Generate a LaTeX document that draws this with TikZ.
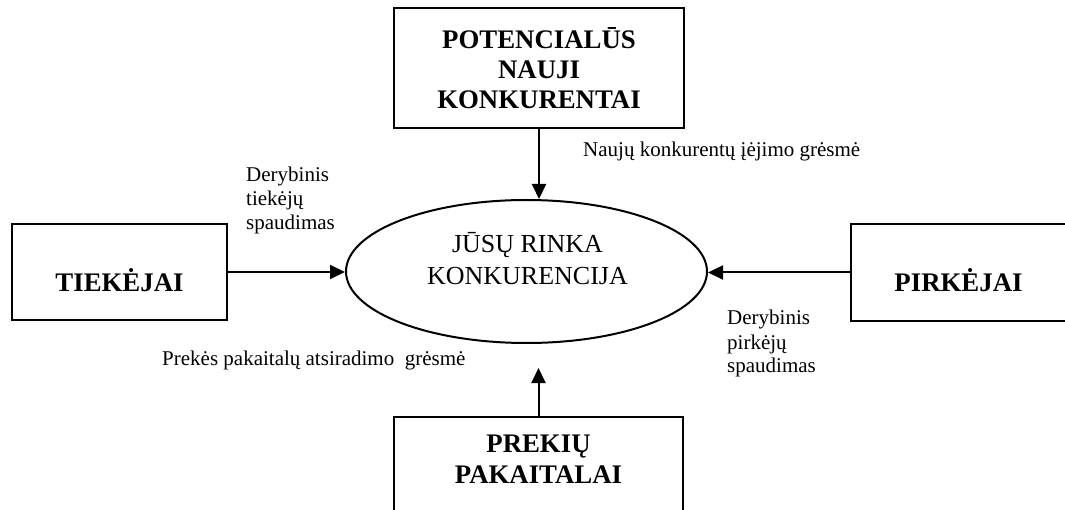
\documentclass[tikz,border=0pt]{standalone}
\usepackage{fontspec}
\setmainfont{Liberation Serif}
\usetikzlibrary{shapes.geometric,arrows.meta}
\begin{document}
\begin{tikzpicture}[x=1pt,y=-1pt,
  box/.style={draw, line width=2pt, rectangle, inner sep=0pt,
    font=\fontsize{26.8}{30}\selectfont\bfseries},
  title/.style={inner sep=0pt, font=\fontsize{26.8}{31}\selectfont\bfseries, align=center},
  flow/.style={-{Triangle[length=15pt,width=14pt]}, line width=2pt},
  note/.style={inner sep=0pt, font=\fontsize{21}{24}\selectfont, align=left},
]
\useasboundingbox (0,0) rectangle (1065,510);
\clip (0,0) rectangle (1065,510);

% central market ellipse
\node[draw, ellipse, line width=2pt, minimum width=361, minimum height=143, inner sep=0pt] (market) at (526.5,271.5) {};
\node[inner sep=0pt, font=\fontsize{26}{32}\selectfont, align=center, anchor=base] (markettext) at (527.5,285) {JŪSŲ RINKA\\KONKURENCIJA};

% the four forces
\node[box, align=center, minimum width=290, minimum height=120] (entrants) at (539,68) {POTENCIALŪS\\NAUJI\\KONKURENTAI};
\node[box, minimum width=215, minimum height=96] (suppliers) at (119.5,272) {\raisebox{-20pt}[0pt][0pt]{TIEKĖJAI}};
\node[box, minimum width=215, minimum height=97] (buyers) at (958.5,272.5) {\raisebox{-19pt}[0pt][0pt]{PIRKĖJAI}};
\node[box, minimum width=289, minimum height=130] (substitutes) at (538.5,482) {};
\node[title, anchor=base] (substtext) at (538.5,483) {PREKIŲ\\PAKAITALAI};

% connectors
\coordinate (substtip) at (538.5,368);
\draw[flow] (entrants.south) -- (entrants.south |- market.north);
\draw[flow] (suppliers.east) -- (suppliers.east -| market.west);
\draw[flow] (buyers.west) -- (buyers.west -| market.east);
\draw[flow] (substitutes.north) -- (substtip);

% labels (multi-line nodes are anchored at the baseline of their last line)
\node[note, anchor=base west] (entrynote) at (583,157) {Naujų konkurentų įėjimo grėsmė};
\node[note, anchor=base west] (suppnote) at (246,230) {Derybinis\\tiekėjų\\spaudimas};
\node[note, anchor=base west] (buynote) at (727,373) {Derybinis\\pirkėjų\\spaudimas};
\node[note, anchor=base west] (substnote) at (162,365) {Prekės pakaitalų atsiradimo\ \ grėsmė};
\end{tikzpicture}
\end{document}
